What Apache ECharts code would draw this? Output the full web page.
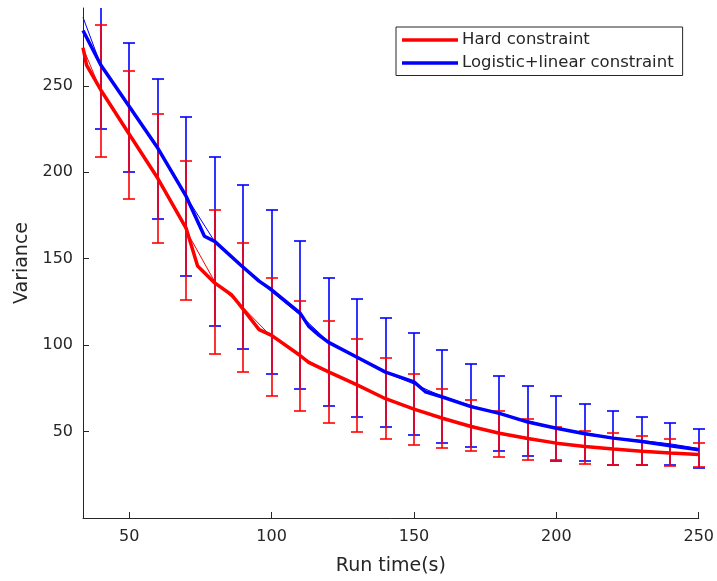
<!DOCTYPE html>
<html>
<head>
<meta charset="utf-8">
<script src="https://cdn.jsdelivr.net/npm/echarts@6/dist/echarts.min.js"></script>
<style>
html,body{margin:0;padding:0;background:#fff;}
#chart{width:717px;height:581px;}
</style>
</head>
<body>
<div id="chart"></div>
<script>
// ---- data ----
const seriesNames = ['Hard constraint', 'Logistic+linear constraint'];
const xTicks = [50, 100, 150, 200, 250];
const yTicks = [50, 100, 150, 200, 250];

// thick (detailed) curves
const redX = [33.75,35,40,50,60,70,74,80,86,89,95.6,100,110,113,120,130,140,150,160,170,180,190,200,210,220,230,240,250];
const redY = [272,262,247.6,222,196.5,167.5,145.7,136,129,122.8,109,105.6,94,90,84.5,77,69,63,57.7,52.9,49,46,43.3,41.4,39.9,38.6,37.6,36.7];
const blueX = [33.75,40,50,60,70,76.4,80,89,95.6,100,110,113,116.7,120,130,140,150,154,160,170,180,190,200,210,220,230,240,250];
const blueY = [282,262,238,214,186,163,160,146.5,137,132,118.5,111,105.6,101.6,93,84.4,78.7,73,70,64.4,60.5,55.5,51.9,48.7,46.2,44.3,41.8,39.5];

// error-bar sample points
const barX = [40,50,60,70,80,90,100,110,120,130,140,150,160,170,180,190,200,210,220,230,240,250];
const redMean = [247.2,221.8,196.6,166.2,136.7,121.7,104.8,93.7,84.4,76.8,69.1,62.9,57.4,53.6,48.6,45.5,43.2,41,39.8,38.9,37.9,36.5];
const redHigh = [285.4,258.8,233.8,206.3,178.4,158.9,138.9,125.5,114,103.5,92.4,83.4,74.5,68.5,61.9,57.1,52.9,50.4,49,47.2,45.8,43.3];
const redLow  = [209,184.7,159.3,126,94.9,84.4,70.6,61.9,54.8,50,45.8,42.4,40.3,38.6,35.3,33.8,33.4,31.5,30.5,30.5,30,29.6];
const blueMean = [262,237.5,213.4,185.9,159.9,145.4,130.9,117.4,101.9,92.7,84.2,77.5,70.3,65.1,60.3,56.2,52,49.3,46.4,44.8,42.9,40.2];
const blueHigh = [299,274.9,253.9,232,209,192.9,178.4,160.2,138.9,126.8,115.5,106.8,97.2,89.2,82,76.2,70.7,65.7,61.9,58.6,55.2,51.3];
const blueLow  = [225.2,200,172.8,139.8,110.8,97.8,83.4,74.5,64.9,58.6,52.9,48.1,43.3,41,38.6,36.1,33.2,32.8,30.9,30.9,30.5,29];
const thinStartX = 33.75;
const redThinStart = 272;
const blueThinStart = 289.6;

// ---- build ----
const RED = '#ff0000', BLUE = '#0000ff', INK = '#262626';
const FONT = 'DejaVu Sans';

const pairs = (xs, ys) => xs.map((x, i) => [x, ys[i]]);
const bars = (lo, hi) => barX.map((x, i) => [x, lo[i], hi[i]]);

function errRender(color) {
  return function (params, api) {
    const x = api.value(0), lo = api.value(1), hi = api.value(2);
    const pLo = api.coord([x, lo]);
    const pHi = api.coord([x, hi]);
    const top = params.coordSys.y;
    const half = 6;
    const cx = Math.round(pLo[0]);
    const yLo = Math.round(pLo[1]);
    let yHi = Math.round(pHi[1]);
    const clipped = yHi < top;
    if (clipped) yHi = top;
    const st = { stroke: color, lineWidth: 1.6 };
    const children = [
      { type: 'line', shape: { x1: cx, y1: yLo, x2: cx, y2: yHi }, style: st },
      { type: 'line', shape: { x1: cx - half, y1: yLo, x2: cx + half, y2: yLo }, style: st }
    ];
    if (!clipped) {
      children.push({ type: 'line', shape: { x1: cx - half, y1: yHi, x2: cx + half, y2: yHi }, style: st });
    }
    return { type: 'group', children };
  };
}

const chart = echarts.init(document.getElementById('chart'), null, { renderer: 'canvas' });
chart.setOption({
  animation: false,
  backgroundColor: '#ffffff',
  textStyle: { fontFamily: FONT },
  grid: { left: 83, right: 16, top: 8, bottom: 60, containLabel: false },
  legend: {
    data: seriesNames,
    orient: 'vertical',
    left: 396, top: 27,
    padding: [4.5, 9, 4, 6],
    itemGap: 6,
    itemWidth: 56, itemHeight: 3.5,
    icon: 'rect',
    borderColor: INK, borderWidth: 1,
    backgroundColor: '#ffffff',
    textStyle: { fontSize: 16.5, color: INK, fontFamily: FONT, padding: [0, 0, 0, -1] }
  },
  xAxis: {
    type: 'value', min: 33.75, max: 250,
    name: 'Run time(s)', nameLocation: 'middle', nameGap: 39,
    nameTextStyle: { fontSize: 19, color: INK, fontFamily: FONT },
    axisLine: { show: true, lineStyle: { color: INK, width: 1 } },
    axisTick: { show: true, inside: true, length: 6, customValues: xTicks, lineStyle: { color: INK } },
    axisLabel: { customValues: xTicks, fontSize: 16, color: INK, margin: 11, fontFamily: FONT },
    splitLine: { show: false }
  },
  yAxis: {
    type: 'value', min: 0, max: 295,
    name: 'Variance', nameLocation: 'middle', nameGap: 50,
    nameTextStyle: { fontSize: 19, color: INK, fontFamily: FONT },
    axisLine: { show: true, lineStyle: { color: INK, width: 1 } },
    axisTick: { show: true, inside: true, length: 6, customValues: yTicks, lineStyle: { color: INK } },
    axisLabel: { customValues: yTicks, fontSize: 16, color: INK, margin: 10, fontFamily: FONT },
    splitLine: { show: false }
  },
  series: [
    { name: 'blueErr', type: 'custom', renderItem: errRender(BLUE), data: bars(blueLow, blueHigh), z: 2, silent: true },
    { name: 'redErr', type: 'custom', renderItem: errRender(RED), data: bars(redLow, redHigh), z: 3, silent: true },
    { name: 'redThin', type: 'line', data: [[thinStartX, redThinStart]].concat(pairs(barX, redMean)), showSymbol: false, lineStyle: { color: RED, width: 1 }, itemStyle: { color: RED }, z: 4, silent: true },
    { name: 'blueThin', type: 'line', data: [[thinStartX, blueThinStart]].concat(pairs(barX, blueMean)), showSymbol: false, lineStyle: { color: BLUE, width: 1 }, itemStyle: { color: BLUE }, z: 4, silent: true },
    { name: seriesNames[0], type: 'line', data: pairs(redX, redY), showSymbol: false, lineStyle: { color: RED, width: 3.5 }, itemStyle: { color: RED }, z: 5 },
    { name: seriesNames[1], type: 'line', data: pairs(blueX, blueY), showSymbol: false, lineStyle: { color: BLUE, width: 3.5 }, itemStyle: { color: BLUE }, z: 5 }
  ]
});
</script>
</body>
</html>
